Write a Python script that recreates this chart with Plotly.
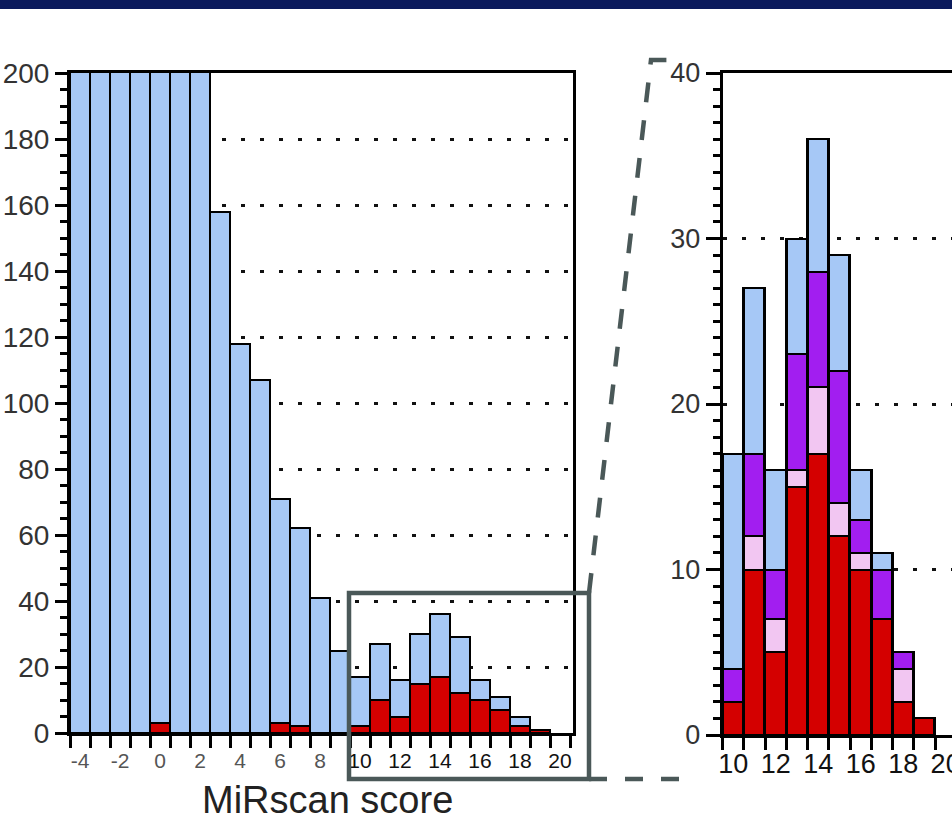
import plotly.graph_objects as go

W, H = 952, 830

# ---------------- data ----------------
# left panel: all candidates by MiRscan score (bars above 200 are clipped)
left_scores = list(range(-4, 21))
left_total = [260, 300, 340, 370, 390, 330, 240, 158, 118, 107, 71, 62, 41, 25,
              17, 27, 16, 30, 36, 29, 16, 11, 5, 1, 0]
left_red = [0, 0, 0, 0, 3, 0, 0, 0, 0, 0, 3, 2, 0, 0,
            2, 10, 5, 15, 17, 12, 10, 7, 2, 1, 0]
left_blue = [t - r for t, r in zip(left_total, left_red)]

# right panel: zoom on scores 10-20
right_scores = list(range(10, 21))
right_red = [2, 10, 5, 15, 17, 12, 10, 7, 2, 1, 0]
right_pink = [0, 2, 2, 1, 4, 2, 1, 0, 2, 0, 0]
right_purple = [2, 5, 3, 7, 7, 8, 2, 3, 1, 0, 0]
right_blue = [13, 10, 6, 7, 8, 7, 3, 1, 0, 0, 0]

left_xticks = list(range(-4, 21, 2))
right_xticks = list(range(10, 21, 2))
left_yticks = list(range(0, 201, 20))
right_yticks = list(range(0, 41, 10))

BLUE = "#a6c8f6"
RED = "#d40000"
PINK = "#f2c6f2"
PURPLE = "#a21ef0"


def nz(v):
    return [x if x else None for x in v]


def px(x):
    return x / W


def py(y):
    return 1 - y / H


fig = go.Figure()
outline = dict(color="black", width=2.5)

fig.add_trace(go.Bar(x=left_scores, y=nz(left_red), marker=dict(color=RED, line=outline),
                     xaxis="x", yaxis="y", width=1))
fig.add_trace(go.Bar(x=left_scores, y=nz(left_blue), marker=dict(color=BLUE, line=outline),
                     xaxis="x", yaxis="y", width=1))

for vals, col in [(right_red, RED), (right_pink, PINK), (right_purple, PURPLE), (right_blue, BLUE)]:
    fig.add_trace(go.Bar(x=right_scores, y=nz(vals), marker=dict(color=col, line=outline),
                         xaxis="x2", yaxis="y2", width=1))

FONT = "Liberation Sans, Arial, sans-serif"
grid = dict(showgrid=True, gridcolor="#111", gridwidth=3, griddash="4px,15px")

left_ticktext = [
    (f"<span style='color:#111'>{v}</span>" if v >= 10 else f"<span style='color:#555'>{v}</span>")
    for v in left_xticks
]

fig.update_layout(
    width=W, height=H,
    margin=dict(l=0, r=0, t=0, b=0, autoexpand=False),
    paper_bgcolor="white", plot_bgcolor="white",
    showlegend=False,
    barmode="stack", bargap=0,
    font=dict(family=FONT, color="#333"),
    xaxis=dict(domain=[px(70), px(573)], range=[-4.5, 20.65], anchor="y",
               automargin=False, ticklabeloverflow="allow",
               tickmode="array", tickvals=left_xticks, ticktext=left_ticktext,
               ticks="", tickfont=dict(size=21), ticklabelstandoff=7,
               showline=True, linecolor="black", linewidth=3, mirror=True,
               showgrid=False, zeroline=False,
               minor=dict(tickmode="array", tickvals=[v + 0.5 for v in range(-5, 21)],
                          ticks="outside", ticklen=12, tickwidth=3, tickcolor="black")),
    yaxis=dict(domain=[py(733), py(73)], range=[0, 200], anchor="x",
               automargin=False, ticklabeloverflow="allow",
               tickmode="array", tickvals=left_yticks,
               ticks="outside", ticklen=12, tickwidth=2.5, tickcolor="black",
               tickfont=dict(size=28, color="#333"),
               showline=True, linecolor="black", linewidth=3, mirror=True,
               zeroline=False, **grid,
               minor=dict(dtick=5, ticks="outside", ticklen=7, tickwidth=2.5,
                          tickcolor="black", showgrid=False)),
    xaxis2=dict(domain=[px(722.6), 1], range=[9.5, 20.3], anchor="y2",
                automargin=False, ticklabeloverflow="allow",
                tickmode="array", tickvals=right_xticks,
                ticks="", tickfont=dict(size=27, color="#111"), ticklabelstandoff=3,
                showline=True, linecolor="black", linewidth=3, mirror=True,
                showgrid=False, zeroline=False,
                minor=dict(tickmode="array", tickvals=[v + 0.5 for v in range(9, 21)],
                           ticks="outside", ticklen=12, tickwidth=3, tickcolor="black")),
    yaxis2=dict(domain=[py(735), py(73)], range=[0, 40], anchor="x2",
                automargin=False, ticklabeloverflow="allow",
                tickmode="array", tickvals=right_yticks,
                ticks="outside", ticklen=14, tickwidth=2.5, tickcolor="black",
                tickfont=dict(size=27, color="#333"),
                showline=True, linecolor="black", linewidth=3, mirror=False,
                zeroline=False, **grid,
                minor=dict(dtick=1, ticks="outside", ticklen=7, tickwidth=2.5,
                           tickcolor="black", showgrid=False)),
)

GRAY = "#4a5858"
shapes = [
    dict(type="rect", xref="paper", yref="paper", x0=0, x1=1, y0=py(9), y1=1,
         fillcolor="#0b1a5c", line=dict(width=0), layer="above"),
    dict(type="rect", xref="paper", yref="paper", x0=px(349), x1=px(589),
         y0=py(779), y1=py(593), line=dict(color=GRAY, width=4.5), layer="above"),
    dict(type="path", xref="paper", yref="paper",
         path=f"M {px(589)},{py(593)} L {px(651)},{py(60)} L {px(668)},{py(60)}",
         line=dict(color=GRAY, width=4.5, dash="20px,18px"), layer="above"),
    dict(type="line", xref="paper", yref="paper", x0=px(589), x1=px(684),
         y0=py(779), y1=py(779),
         line=dict(color=GRAY, width=4.5, dash="18px,18px"), layer="above"),
]
fig.update_layout(shapes=shapes)

fig.add_annotation(text="MiRscan score", xref="paper", yref="paper",
                   x=px(327), y=py(800), showarrow=False,
                   xanchor="center", yanchor="middle",
                   font=dict(size=38, color="#222", family=FONT))

fig.write_html("out.html")
